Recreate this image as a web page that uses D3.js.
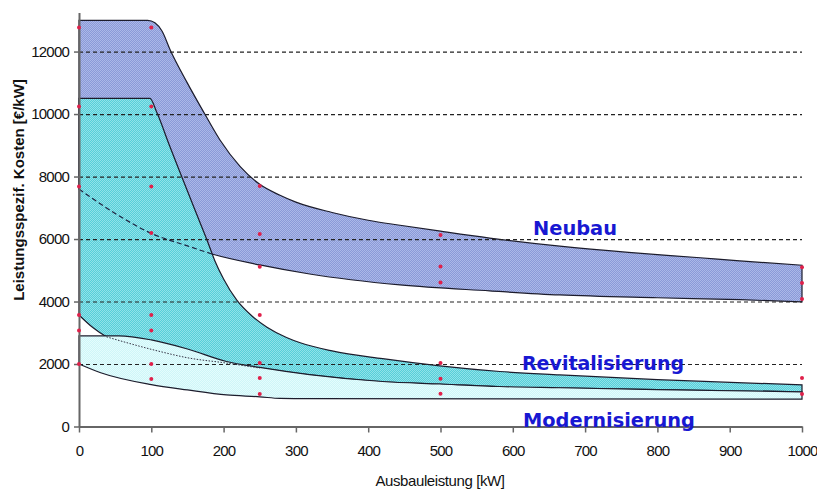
<!DOCTYPE html>
<html>
<head>
<meta charset="utf-8">
<script src="https://cdn.jsdelivr.net/npm/d3@7"></script>
<style>
  body { margin: 0; background: #fff; }
  svg { display: block; font-family: "Liberation Sans", Arial, sans-serif; }
</style>
</head>
<body>
<div id="chart"></div>
<script>
// Kurven [kW, €/kW]
const neubauOben = [[0,13000],[95,13000],[105,12920],[115,12650],[126,12060],[149,11030],[174,10000],[195,9170],[223,8320],[250,7750],[278,7400],[300,7180],[350,6850],[400,6600],[444,6440],[500,6250],[568,6030],[665,5770],[760,5570],[859,5400],[914,5300],[1000,5160]]
const neubauUnten = [[0,7600],[50,6820],[100,6180],[150,5780],[184,5520],[250,5170],[319,4880],[444,4530],[568,4340],[665,4210],[800,4120],[914,4060],[1000,3990]]

const revOben = [[0,10500],[98,10500],[108,10030],[125,9000],[142,8000],[160,6950],[177,5970],[188,5300],[200,4720],[218,4050],[240,3520],[260,3180],[287,2850],[306,2680],[350,2420],[420,2170],[499,1940],[582,1760],[665,1650],[800,1500],[1000,1330]]
const revUnten = [[0,3570],[20,3150],[38,2870],[112,2400],[150,2200],[204,2030],[250,1870],[319,1650],[420,1430],[499,1360],[582,1270],[665,1240],[800,1180],[1000,1110]]

const modOben = [[0,2900],[55,2900],[100,2770],[150,2480],[204,2080],[250,1890],[319,1660],[420,1440],[499,1360],[582,1280],[665,1240],[800,1180],[1000,1110]]
const modUnten = [[0,2000],[30,1720],[100,1340],[150,1170],[204,1010],[250,950],[278,900],[319,890],[1000,875]]

// Einzelwerte
const messpunkte = [[0,12770],[0,10240],[0,7680],[0,3570],[0,3070],[0,2000],
  [100,12770],[100,10240],[100,7680],[100,6190],[100,3570],[100,3070],[100,2000],[100,1520],
  [250,7700],[250,6160],[250,5110],[250,3570],[250,2030],[250,1550],[250,1040],
  [500,6130],[500,5120],[500,4610],[500,2030],[500,1530],[500,1050],
  [1000,5100],[1000,4590],[1000,4080],[1000,1550],[1000,1040]]

const xTicks = [0,100,200,300,400,500,600,700,800,900,1000]
const yTicks = [0,2000,4000,6000,8000,10000,12000]
const gridTicks = [2000,4000,6000,8000,10000,12000]
const labels = ['Neubau','Revitalisierung','Modernisierung']

const width = 817, height = 490

const x = d3.scaleLinear().domain([0, 1000]).range([79, 802])
const y = d3.scaleLinear().domain([0, 13250]).range([426.5, 12.5])

const svg = d3.select('#chart').append('svg')
    .attr('width', width)
    .attr('height', height)

// dithered fills like the original
const defs = svg.append('defs')
function dither(id, base, light) {
    const p = defs.append('pattern')
        .attr('id', id)
        .attr('width', 2).attr('height', 2)
        .attr('patternUnits', 'userSpaceOnUse')
    p.append('rect').attr('width', 2).attr('height', 2).attr('fill', base)
    p.append('rect').attr('width', 1).attr('height', 1).attr('fill', light)
    p.append('rect').attr('x', 1).attr('y', 1).attr('width', 1).attr('height', 1).attr('fill', light)
}
dither('blau', '#8a9ad8', '#acb8e8')
dither('cyan', '#56cfd9', '#90e2e9')
dither('hell', '#cef6f8', '#e4fcfd')

const line = d3.line()
    .x(d => x(d[0]))
    .y(d => y(d[1]))
    .curve(d3.curveMonotoneX)

function band(oben, unten, fill) {
    const path = line(oben) + 'L' + line(unten.slice().reverse()).slice(1) + 'Z'
    svg.append('path')
        .attr('d', path)
        .attr('fill', 'url(#' + fill + ')')
        .attr('stroke', '#1c1c2c')
        .attr('stroke-width', 1.2)
}

// bands, back to front
band(neubauOben, neubauUnten, 'blau')
band(revOben, revUnten, 'cyan')
band(modOben, modUnten, 'hell')

// gridlines
svg.append('g')
    .attr('transform', 'translate(' + x(0) + ',0)')
    .call(d3.axisLeft(y).tickValues(gridTicks).tickSize(-(x(1000) - x(0))).tickFormat(''))
    .call(g => g.select('.domain').remove())
    .call(g => g.selectAll('line')
        .attr('stroke', '#222')
        .attr('stroke-width', 1.2)
        .attr('stroke-dasharray', '4,3'))

// hidden boundaries shown through the upper bands
svg.append('path')
    .attr('d', line(neubauUnten.filter(d => d[0] <= 184)))
    .attr('fill', 'none')
    .attr('stroke', '#1c2240')
    .attr('stroke-width', 1.2)
    .attr('stroke-dasharray', '5,3')

svg.append('path')
    .attr('d', line(revUnten.filter(d => d[0] >= 38 && d[0] <= 250)))
    .attr('fill', 'none')
    .attr('stroke', '#334')
    .attr('stroke-width', 1)
    .attr('stroke-dasharray', '1.5,1.5')

// axes
const xAxis = svg.append('g')
    .attr('transform', 'translate(0,' + y(0) + ')')
    .call(d3.axisBottom(x).tickValues(xTicks).tickSize(6).tickSizeOuter(0).tickPadding(13).tickFormat(d3.format('d')))

const yAxis = svg.append('g')
    .attr('transform', 'translate(' + x(0) + ',0)')
    .call(d3.axisLeft(y).tickValues(yTicks).tickSize(5).tickSizeOuter(0).tickPadding(5).tickFormat(d3.format('d')))

;[xAxis, yAxis].forEach(g => {
    g.select('.domain').attr('stroke', '#666').attr('stroke-width', 2)
    g.selectAll('.tick line').attr('stroke', '#666').attr('stroke-width', 1.5)
    g.selectAll('.tick text')
        .attr('font-family', '"Liberation Sans", Arial, sans-serif')
        .attr('font-size', 15)
        .attr('letter-spacing', '-0.8px')
        .attr('fill', '#111')
})

// measured points
svg.append('g').selectAll('circle')
    .data(messpunkte)
    .join('circle')
    .attr('cx', d => x(d[0]))
    .attr('cy', d => y(d[1]))
    .attr('r', 2)
    .attr('fill', '#e0204a')

// axis titles
svg.append('text')
    .attr('x', 440).attr('y', 486)
    .attr('text-anchor', 'middle')
    .attr('font-size', 15)
    .attr('letter-spacing', '-0.4px')
    .attr('fill', '#111')
    .text('Ausbauleistung [kW]')

svg.append('text')
    .attr('transform', 'translate(24,190) rotate(-90)')
    .attr('text-anchor', 'middle')
    .attr('font-size', 15)
    .attr('font-weight', 'bold')
    .attr('fill', '#111')
    .text('Leistungsspezif. Kosten [€/kW]')

// series labels
const labelPos = [[533, 235, 84], [522, 370, 162], [523, 427, 172]]
svg.append('g').selectAll('text')
    .data(labels)
    .join('text')
    .attr('x', (d, i) => labelPos[i][0])
    .attr('y', (d, i) => labelPos[i][1])
    .attr('textLength', (d, i) => labelPos[i][2])
    .attr('lengthAdjust', 'spacingAndGlyphs')
    .attr('font-family', '"DejaVu Sans", Verdana, sans-serif')
    .attr('font-size', 19)
    .attr('font-weight', 'bold')
    .attr('fill', '#1818d2')
    .text(d => d)
</script>
</body>
</html>
